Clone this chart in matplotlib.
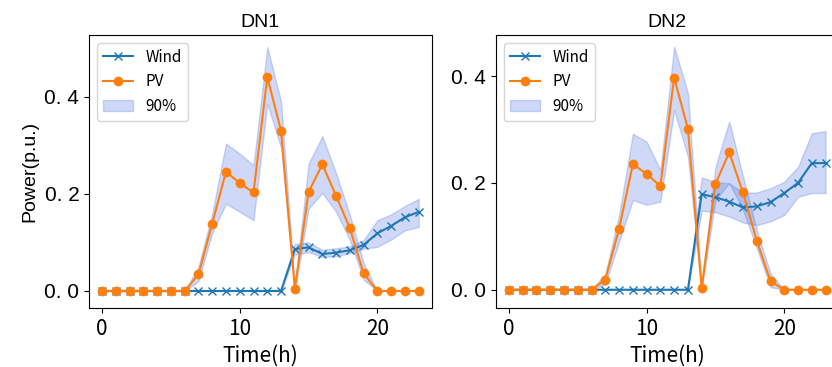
import numpy as np
import matplotlib
matplotlib.use('Agg')
import matplotlib.pyplot as plt

plt.rcParams['font.family'] = ['Noto Sans CJK SC', 'DejaVu Sans']

hours = list(range(24))

# DN1
wind1 = [0]*14 + [0.086, 0.090, 0.076, 0.079, 0.084, 0.095, 0.119, 0.134, 0.152, 0.163]
wind1_lo = [0]*14 + [0.075, 0.080, 0.070, 0.072, 0.078, 0.087, 0.091, 0.106, 0.125, 0.132]
wind1_hi = [0]*14 + [0.097, 0.100, 0.085, 0.088, 0.092, 0.105, 0.146, 0.158, 0.175, 0.190]
pv1 = [0, 0, 0, 0, 0, 0, 0, 0.034, 0.139, 0.246, 0.222, 0.203, 0.441, 0.330,
       0.005, 0.204, 0.261, 0.196, 0.129, 0.036, 0, 0, 0, 0]
pv1_lo = [0, 0, 0, 0, 0, 0, 0, 0.020, 0.120, 0.180, 0.163, 0.146, 0.386, 0.295,
          0.000, 0.170, 0.202, 0.163, 0.105, 0.023, 0, 0, 0, 0]
pv1_hi = [0, 0, 0, 0, 0, 0, 0, 0.050, 0.160, 0.304, 0.283, 0.259, 0.503, 0.390,
          0.010, 0.263, 0.319, 0.242, 0.156, 0.057, 0, 0, 0, 0]

# DN2
wind2 = [0]*14 + [0.179, 0.173, 0.165, 0.154, 0.156, 0.164, 0.181, 0.200, 0.237, 0.237]
wind2_lo = [0]*14 + [0.148, 0.145, 0.137, 0.126, 0.121, 0.128, 0.140, 0.174, 0.181, 0.181]
wind2_hi = [0]*14 + [0.210, 0.202, 0.199, 0.182, 0.182, 0.190, 0.202, 0.230, 0.293, 0.297]
pv2 = [0, 0, 0, 0, 0, 0, 0, 0.019, 0.114, 0.235, 0.217, 0.194, 0.397, 0.301,
       0.003, 0.198, 0.257, 0.182, 0.092, 0.016, 0, 0, 0, 0]
pv2_lo = [0, 0, 0, 0, 0, 0, 0, 0.010, 0.090, 0.168, 0.159, 0.165, 0.336, 0.249,
          0.000, 0.168, 0.200, 0.150, 0.078, 0.005, 0, 0, 0, 0]
pv2_hi = [0, 0, 0, 0, 0, 0, 0, 0.030, 0.140, 0.292, 0.277, 0.224, 0.455, 0.368,
          0.010, 0.230, 0.315, 0.212, 0.112, 0.030, 0, 0, 0, 0]

panels = [
    ('DN1', wind1, wind1_lo, wind1_hi, pv1, pv1_lo, pv1_hi, (-0.035, 0.528)),
    ('DN2', wind2, wind2_lo, wind2_hi, pv2, pv2_lo, pv2_hi, (-0.034, 0.477)),
]

fig = plt.figure(figsize=(8.32, 3.67), dpi=100)
positions = [[0.107, 0.161, 0.412, 0.744], [0.596, 0.161, 0.412, 0.744]]

for i, (title, w, wlo, whi, p, plo, phi, ylim) in enumerate(panels):
    ax = fig.add_axes(positions[i])
    ax.plot(hours, w, marker='x', color='tab:blue', markersize=6, label='Wind')
    ax.plot(hours, p, marker='o', color='tab:orange', markersize=6, label='PV')
    ax.fill_between(hours, plo, phi, color='royalblue', alpha=0.25, label='90%')
    ax.fill_between(hours, wlo, whi, color='royalblue', alpha=0.25)
    ax.set_xlim(-0.95, 23.95)
    ax.set_ylim(*ylim)
    ax.set_xticks([0, 10, 20])
    ax.set_yticks([0.0, 0.2, 0.4])
    ax.set_yticklabels(['0. 0', '0. 2', '0. 4'], family=['Liberation Sans', 'DejaVu Sans'])
    ax.tick_params(labelsize=15)
    ax.set_title(title, fontsize=14, family=['Liberation Sans', 'DejaVu Sans'])
    ax.set_xlabel('Time(h)', fontsize=15)
    if i == 0:
        ax.set_ylabel('Power(p.u.)', fontsize=14, family=['Liberation Sans', 'DejaVu Sans'])
    ax.legend(loc='upper left', fontsize=11)

fig.savefig('out.png', dpi=100)
